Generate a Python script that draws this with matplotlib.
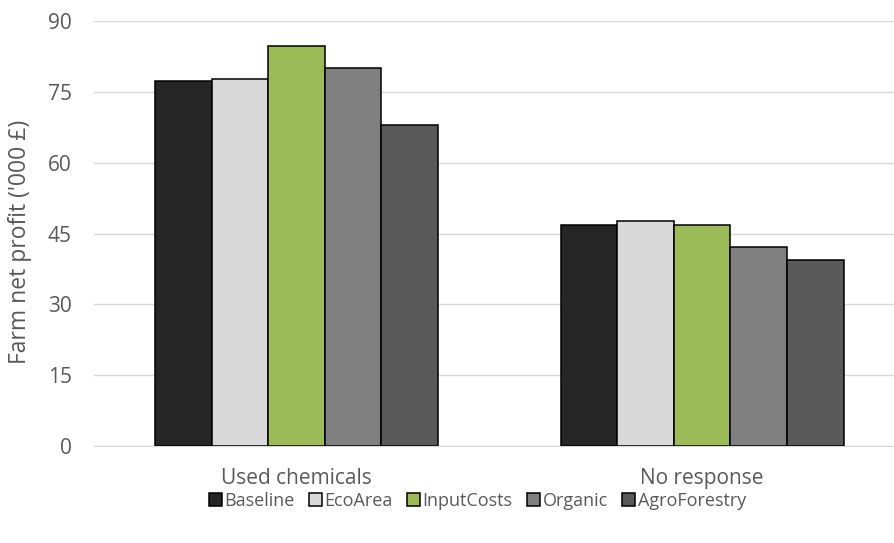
import matplotlib
matplotlib.use("Agg")
import matplotlib.pyplot as plt
import numpy as np

groups = ["Used chemicals", "No response"]
scenarios = ["Baseline", "EcoArea", "InputCosts", "Organic", "AgroForestry"]
profit = {
    "Baseline": [77.4, 46.8],
    "EcoArea": [77.8, 47.7],
    "InputCosts": [84.7, 46.9],
    "Organic": [80.1, 42.1],
    "AgroForestry": [67.9, 39.3],
}
colors = ["#262626", "#D9D9D9", "#9BBB59", "#808080", "#595959"]
yticks = [0, 15, 30, 45, 60, 75, 90]

plt.rcParams["font.family"] = ["Open Sans", "DejaVu Sans"]

fig = plt.figure(figsize=(8.94, 5.43), dpi=100)
ax = fig.add_axes([0.105, 0.1786, 0.907, 0.7827])

x = np.arange(len(groups))
bw = 0.1396
for i, name in enumerate(scenarios):
    ax.bar(x + (i - 2) * bw, profit[name], bw, color=colors[i],
           edgecolor="black", linewidth=1.1, label=name, zorder=3)

ax.set_xlim(-0.5, 1.5)
ax.set_ylim(0, 90)
ax.set_yticks(yticks)
ax.set_xticks(x)
ax.set_xticklabels(groups)
ax.grid(axis="y", color="#D9D9D9", linewidth=1, zorder=0)
for s in ["top", "right", "left"]:
    ax.spines[s].set_visible(False)
ax.spines["bottom"].set_color("#D9D9D9")
ax.tick_params(axis="both", length=0, labelsize=15, colors="#595959")
ax.tick_params(axis="y", pad=16)
ax.tick_params(axis="x", pad=16)
ax.set_ylabel("Farm net profit ('000 £)", fontsize=16.5, color="#595959")
ax.yaxis.set_label_coords(-0.076, 0.48)

fig.legend(loc="center", bbox_to_anchor=(0.534, 0.078), ncol=5, frameon=False,
           fontsize=13, handlelength=0.7, handleheight=0.7, handletextpad=0.15,
           columnspacing=0.8, labelcolor="#595959")

fig.savefig("out.png", dpi=100, facecolor="white")
